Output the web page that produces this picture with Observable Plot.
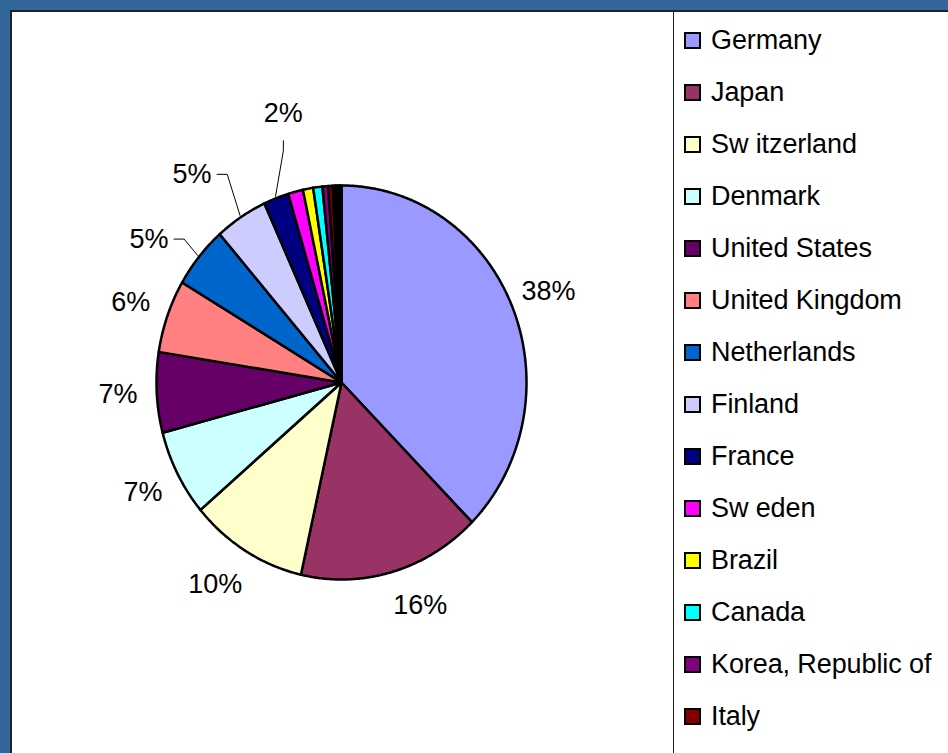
<!DOCTYPE html>
<html>
<head>
<meta charset="utf-8">
<script src="https://cdn.jsdelivr.net/npm/d3@7"></script>
<script src="https://cdn.jsdelivr.net/npm/@observablehq/plot@0.6"></script>
<style>
  html, body { margin: 0; padding: 0; }
  body { width: 948px; height: 753px; overflow: hidden; background: #336699; position: relative;
         font-family: "Liberation Sans", Arial, sans-serif; }
  #panel { position: absolute; left: 10px; top: 10px; width: 960px; height: 780px; background: #fff;
           border-left: 2px solid #1d2230; border-top: 2px solid #1d2230; }
  #chart { position: absolute; left: 12px; top: 12px; }
  #legend { position: absolute; left: 673px; top: 12px; width: 300px; height: 760px;
            border-left: 1px solid #222; background: #fff; }
  .item { position: absolute; left: 10px; height: 30px; display: flex; align-items: center; }
  .sw { width: 13px; height: 13px; border: 2px solid #000; margin-right: 10px; }
  .lab { font-size: 27px; color: #000; white-space: pre; letter-spacing: -0.1px; }
</style>
</head>
<body>
<div id="panel"></div>
<div id="chart"></div>
<div id="legend"></div>
<script>
// ---- data ----
const countries = ["Germany", "Japan", "Switzerland", "Denmark", "United States", "United Kingdom",
  "Netherlands", "Finland", "France", "Sweden", "Brazil", "Canada", "Korea, Republic of", "Italy"];
const legendLabels = ["Germany", "Japan", "Sw itzerland", "Denmark", "United States", "United Kingdom",
  "Netherlands", "Finland", "France", "Sw eden", "Brazil", "Canada", "Korea, Republic of", "Italy"];
const shares = [37.6, 16.0, 10.3, 7.1, 6.6, 6.0, 5.1, 4.6, 2.2, 1.3, 0.9, 0.8, 0.5, 0.4];
const otherNames = ["other1", "other2", "other3", "other4"];
const otherShares = [0.2, 0.2, 0.2, 0.15];
const colors = ["#9999FF", "#993366", "#FFFFCC", "#CCFFFF", "#660066", "#FF8080",
  "#0066CC", "#CCCCFF", "#000080", "#FF00FF", "#FFFF00", "#00FFFF", "#800080", "#800000"];
const otherColors = ["#008080", "#0000FF", "#00CCFF", "#CCFFCC"];

// ---- layout of the outside labels (style, not data) ----
const labelLayout = {
  "Japan": {r: 1.21, da: -4.5},
  "Switzerland": {r: 1.23, da: 2.5},
  "Netherlands": {r: 1.27, da: -4.7, leader: "h"},
  "Finland": {r: 1.33, da: -4.5, leader: "h"},
  "France": {r: 1.40, da: 7.7, leader: "v"}
};

// ---- build slices ----
const names = countries.concat(otherNames);
const vals = shares.concat(otherShares);
const cols = colors.concat(otherColors);
const total = d3.sum(vals);
const pts = [];
const labels = [];
const leaders = [];
let cum = 0;
names.forEach((name, i) => {
  const a0 = cum / total * 2 * Math.PI;
  cum += vals[i];
  const a1 = cum / total * 2 * Math.PI;
  const n = Math.max(2, Math.ceil((a1 - a0) / (Math.PI / 360)));
  pts.push({name, x: 0, y: 0});
  for (let k = 0; k <= n; k++) {
    const a = a0 + (a1 - a0) * k / n;
    pts.push({name, x: Math.sin(a), y: Math.cos(a)});
  }
  pts.push({name, x: 0, y: 0});
  if (i < countries.length && vals[i] >= 2) {
    const mid = (a0 + a1) / 2;
    const lay = labelLayout[name] || {r: 1.21, da: 0};
    const a = mid + lay.da * Math.PI / 180;
    const lx = lay.r * Math.sin(a), ly = lay.r * Math.cos(a);
    labels.push({x: lx, y: ly, text: Math.round(vals[i]) + "%"});
    if (lay.leader) {
      const end = {x: 1.01 * Math.sin(mid), y: 1.01 * Math.cos(mid)};
      let s, e;
      if (lay.leader === "h") { s = {x: lx + 0.135, y: ly}; e = {x: lx + 0.19, y: ly}; }
      else { s = {x: lx, y: ly - 0.137}; e = {x: lx, y: ly - 0.188}; }
      [s, e, end].forEach(p => leaders.push({id: name, ...p}));
    }
  }
});

const cx = 329, cy = 370, rx = 185, ry = 197;
const chart = Plot.plot({
  width: 660, height: 741,
  margin: 0,
  style: {fontFamily: "Liberation Sans, Arial, sans-serif", background: "white", overflow: "visible"},
  x: {domain: [-1, 1], range: [cx - rx, cx + rx], axis: null},
  y: {domain: [-1, 1], range: [cy + ry, cy - ry], axis: null},
  color: {domain: names, range: cols},
  marks: [
    Plot.line(pts, {x: "x", y: "y", z: "name", fill: "name", stroke: "black", strokeWidth: 2.5,
      strokeLinejoin: "round", curve: "linear"}),
    Plot.line(leaders, {x: "x", y: "y", z: "id", stroke: "black", strokeWidth: 1, curve: "linear"}),
    Plot.text(labels, {x: "x", y: "y", text: "text", fontSize: 27, fill: "black",
      textAnchor: "middle", lineAnchor: "middle"})
  ]
});
document.getElementById("chart").appendChild(chart);

// ---- legend ----
const leg = document.getElementById("legend");
countries.forEach((c, i) => {
  const it = document.createElement("div");
  it.className = "item";
  it.style.top = (13 + 52 * i) + "px";
  const sw = document.createElement("div");
  sw.className = "sw";
  sw.style.background = colors[i];
  const lb = document.createElement("span");
  lb.className = "lab";
  lb.textContent = legendLabels[i];
  it.appendChild(sw); it.appendChild(lb);
  leg.appendChild(it);
});
</script>
</body>
</html>
